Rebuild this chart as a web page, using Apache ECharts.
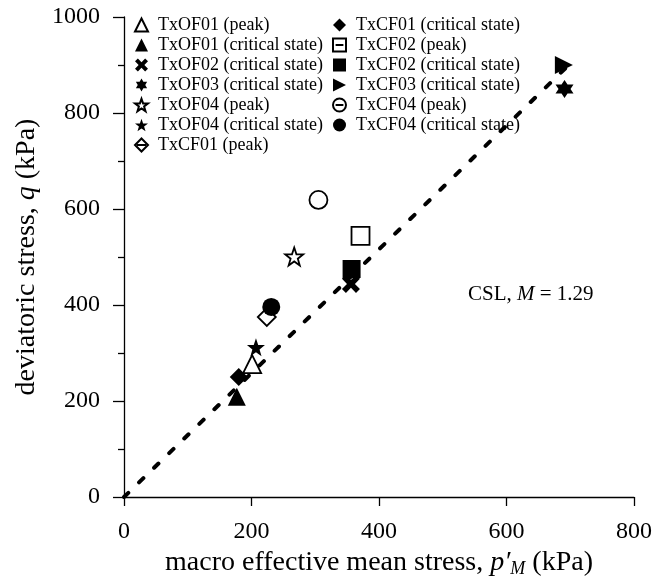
<!DOCTYPE html>
<html>
<head>
<meta charset="utf-8">
<script src="https://cdn.jsdelivr.net/npm/echarts@6/dist/echarts.min.js"></script>
<style>html,body{margin:0;padding:0;background:#fff}#c{width:655px;height:583px}</style>
</head>
<body>
<div id="c"></div>
<script>
const seriesNames = [
  'TxOF01 (peak)', 'TxOF01 (critical state)', 'TxOF02 (critical state)', 'TxOF03 (critical state)',
  'TxOF04 (peak)', 'TxOF04 (critical state)', 'TxCF01 (peak)',
  'TxCF01 (critical state)', 'TxCF02 (peak)', 'TxCF02 (critical state)', 'TxCF03 (critical state)',
  'TxCF04 (peak)', 'TxCF04 (critical state)'
];
const pValues = [201, 177, 356, 691, 267, 207, 224, 180, 371, 357, 690, 305, 231];
const qValues = [277, 209, 444, 850, 501, 312, 375, 250, 544, 475, 900, 619, 396];
const openMarker = [true, false, false, false, true, false, true, false, true, false, false, true, false];
const cslP = [0, 705];
const cslSlope = 1.29;
const xTicks = [0, 200, 400, 600, 800];
const yTicks = [0, 200, 400, 600, 800, 1000];

const FONT = '"Liberation Serif", "Times New Roman", serif';
const X_PATH = 'path://M0,2.2L2.2,0L5,2.8L7.8,0L10,2.2L7.2,5L10,7.8L7.8,10L5,7.2L2.2,10L0,7.8L2.8,5Z';
const HEX_PATH = 'path://M5,0L6.443,2.5L9.33,2.5L7.887,5L9.33,7.5L6.443,7.5L5,10L3.557,7.5L0.67,7.5L2.113,5L0.67,2.5L3.557,2.5Z';
const STAR_PATH = 'path://M5,0L6.18,3.38L9.755,3.455L6.9,5.62L7.94,9.05L5,7L2.06,9.05L3.1,5.62L0.245,3.455L3.82,3.38Z';
const RTRI_PATH = 'path://M0,0L10,5L0,10Z';
const symbols = ['triangle', 'triangle', X_PATH, HEX_PATH, STAR_PATH, STAR_PATH, 'diamond',
  'diamond', 'rect', 'rect', RTRI_PATH, 'circle', 'circle'];
const legendIcons = ['triangle', 'triangle', X_PATH, HEX_PATH, STAR_PATH, STAR_PATH,
  'path://M5,0L10,5L5,10L0,5Z M1.5,5L8.5,5',
  'diamond', 'path://M0,0L10,0L10,10L0,10Z M2,5L8,5', 'rect', RTRI_PATH,
  'path://M0,5A5,5 0 1 1 10,5A5,5 0 1 1 0,5Z M2,5L8,5', 'circle'];

const series = seriesNames.map((name, i) => ({
  name: name,
  type: 'scatter',
  symbol: symbols[i],
  symbolSize: 18,
  z: 3,
  data: [[pValues[i], qValues[i]]],
  itemStyle: openMarker[i]
    ? { color: '#ffffff', borderColor: '#000000', borderWidth: 1.8, opacity: 1 }
    : { color: '#000000', borderColor: '#000000', borderWidth: 0, opacity: 1 }
}));
series.push({
  name: 'CSL',
  type: 'line',
  data: cslP.map(p => [p, p * cslSlope]),
  symbol: 'none',
  z: 2,
  silent: true,
  lineStyle: { color: '#000', width: 4, type: [6, 15], cap: 'round' }
});

const legendCommon = {
  orient: 'vertical',
  itemWidth: 13, itemHeight: 13, itemGap: 2,
  textStyle: { fontFamily: FONT, fontSize: 18, color: '#000', padding: [0, 0, 0, 5] },
  selectedMode: false
};

const chart = echarts.init(document.getElementById('c'), null, { renderer: 'canvas' });
chart.setOption({
  animation: false,
  backgroundColor: '#fff',
  grid: { left: 124, right: 19, top: 17, bottom: 84, containLabel: false },
  legend: [
    Object.assign({}, legendCommon, {
      left: 129, top: 11,
      data: seriesNames.slice(0, 7).map((n, i) => ({ name: n, icon: legendIcons[i] }))
    }),
    Object.assign({}, legendCommon, {
      left: 327, top: 11,
      data: seriesNames.slice(7).map((n, i) => ({ name: n, icon: legendIcons[i + 7] }))
    })
  ],
  xAxis: {
    type: 'value', min: xTicks[0], max: xTicks[xTicks.length - 1], interval: 200,
    splitLine: { show: false },
    axisLine: { show: true, onZero: false, lineStyle: { color: '#000', width: 1.3 } },
    axisTick: { show: true, length: 9, lineStyle: { color: '#000', width: 1.3 } },
    axisLabel: { fontFamily: FONT, fontSize: 24, color: '#000', margin: 23, formatter: v => String(v) },
    name: '{n|macro effective mean stress, }{i|p\u2032}{s|M}{n| (kPa)}',
    nameLocation: 'middle', nameGap: 51,
    nameTextStyle: {
      rich: {
        n: { fontFamily: FONT, fontSize: 28, color: '#000' },
        i: { fontFamily: FONT, fontSize: 28, fontStyle: 'italic', color: '#000' },
        s: { fontFamily: FONT, fontSize: 18, fontStyle: 'italic', color: '#000', padding: [12, 0, 0, 0] }
      }
    }
  },
  yAxis: {
    type: 'value', min: yTicks[0], max: yTicks[yTicks.length - 1], interval: 200,
    splitLine: { show: false },
    axisLine: { show: true, onZero: false, lineStyle: { color: '#000', width: 1.3 } },
    axisTick: { show: true, length: 11, lineStyle: { color: '#000', width: 1.3 } },
    minorTick: { show: true, splitNumber: 2, length: 6, lineStyle: { color: '#000', width: 1.3 } },
    axisLabel: { fontFamily: FONT, fontSize: 24, color: '#000', margin: 24, formatter: v => String(v) },
    name: '{n|deviatoric stress, }{i|q}{n| (kPa)}',
    nameLocation: 'middle', nameGap: 68, nameRotate: 90,
    nameTextStyle: {
      rich: {
        n: { fontFamily: FONT, fontSize: 28, color: '#000' },
        i: { fontFamily: FONT, fontSize: 28, fontStyle: 'italic', color: '#000' }
      }
    }
  },
  graphic: [{
    type: 'text', left: 468, top: 284, z: 10,
    style: {
      text: '{n|CSL, }{i|M}{n| = 1.29}',
      rich: {
        n: { fontFamily: FONT, fontSize: 21, fill: '#000' },
        i: { fontFamily: FONT, fontSize: 21, fontStyle: 'italic', fill: '#000' }
      }
    }
  }],
  series: series
});
</script>
</body>
</html>
